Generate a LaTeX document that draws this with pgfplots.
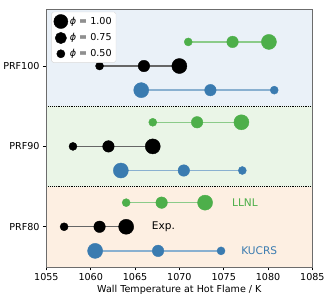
\documentclass[border=0pt]{standalone}
\usepackage{fontspec}
\setmainfont{DejaVu Sans}
\usepackage{pgfplots}
\pgfplotsset{compat=1.18}
\usepackage{pgfplotstable}

\definecolor{cexp}{HTML}{000000}
\definecolor{cllnl}{HTML}{4DAF4A}
\definecolor{ckucrs}{HTML}{3A7BB0}
\definecolor{bgtop}{HTML}{EAF1F8}
\definecolor{bgmid}{HTML}{EAF5E7}
\definecolor{bgbot}{HTML}{FDEFE2}

% Wall temperature (K) per fuel (y = 0 PRF80, 1 PRF90, 2 PRF100) and equivalence ratio
\pgfplotstableread{
T      y    phi
1057.0 0.0  0.50
1061.0 0.0  0.75
1064.0 0.0  1.00
nan    nan  nan
1058.0 1.0  0.50
1062.0 1.0  0.75
1067.0 1.0  1.00
nan    nan  nan
1061.0 2.0  0.50
1066.0 2.0  0.75
1070.0 2.0  1.00
}\expdata

\pgfplotstableread{
T      y    phi
1064.0 0.3  0.50
1068.0 0.3  0.75
1072.9 0.3  1.00
nan    nan  nan
1067.0 1.3  0.50
1072.0 1.3  0.75
1077.0 1.3  1.00
nan    nan  nan
1071.0 2.3  0.50
1076.0 2.3  0.75
1080.1 2.3  1.00
}\llnldata

\pgfplotstableread{
T      y    phi
1074.7 -0.3 0.50
1067.6 -0.3 0.75
1060.5 -0.3 1.00
nan    nan  nan
1077.1 0.7  0.50
1070.5 0.7  0.75
1063.4 0.7  1.00
nan    nan  nan
1080.7 1.7  0.50
1073.5 1.7  0.75
1065.7 1.7  1.00
}\kucrsdata

\pgfplotsset{
  connector/.style={line width=1.4pt, unbounded coords=jump},
  phimarks/.style={
    scatter, only marks, mark=*,
    scatter/use mapped color={draw=#1, fill=#1},
    visualization depends on={4.1+7.2*(\thisrow{phi}-0.5) \as \msize},
    scatter/@pre marker code/.append style={/tikz/mark size=\msize pt},
  },
}

\begin{document}
\begin{tikzpicture}
\begin{axis}[
  name=ax,
  at={(0,0)}, anchor=south west,
  width=272pt, height=263pt, scale only axis,
  xmin=1055, xmax=1085, ymin=-0.5, ymax=2.7,
  xtick={1055,1060,...,1085},
  ytick={0,1,2}, yticklabels={PRF80,PRF90,PRF100},
  /pgf/number format/assume math mode=true,
  /pgf/number format/1000 sep={},
  xlabel={Wall Temperature at Hot Flame / K},
  xlabel style={font=\fontsize{9.8}{11}\selectfont, yshift=3pt},
  ticklabel style={font=\fontsize{9.8}{11}\selectfont},
  tick align=outside, major tick length=3.5pt,
  xtick pos=bottom, ytick pos=left,
  tick style={black, line width=0.6pt},
  axis line style={gray!85!black, line width=0.8pt},
  axis on top,
  clip=false,
  legend cell align=left,
  legend style={
    at={(rel axis cs:0.018,0.992)}, anchor=north west,
    draw=gray!30, fill=white, rounded corners=2pt,
    font=\fontsize{9.8}{11}\selectfont,
    row sep=3.2pt, inner sep=2.5pt,
    /tikz/every even column/.append style={column sep=3pt},
  },
]
% background bands per fuel
\addplot[draw=none, fill=bgbot, forget plot] coordinates {(1055,-0.5) (1085,-0.5) (1085,0.5) (1055,0.5)} -- cycle;
\addplot[draw=none, fill=bgmid, forget plot] coordinates {(1055,0.5) (1085,0.5) (1085,1.5) (1055,1.5)} -- cycle;
\addplot[draw=none, fill=bgtop, forget plot] coordinates {(1055,1.5) (1085,1.5) (1085,2.7) (1055,2.7)} -- cycle;
\addplot[black, densely dotted, line width=0.9pt, forget plot] coordinates {(1055,0.5) (1085,0.5)};
\addplot[black, densely dotted, line width=0.9pt, forget plot] coordinates {(1055,1.5) (1085,1.5)};

% connectors
\addplot[connector, cllnl!65!white, forget plot] table[x=T, y=y] {\llnldata};
\addplot[connector, black!60!white, forget plot] table[x=T, y=y] {\expdata};
\addplot[connector, ckucrs!60!white, forget plot] table[x=T, y=y] {\kucrsdata};

% points, sized by equivalence ratio
\addplot[phimarks=cllnl, forget plot] table[x=T, y=y] {\llnldata};
\addplot[phimarks=cexp, forget plot] table[x=T, y=y] {\expdata};
\addplot[phimarks=ckucrs, forget plot] table[x=T, y=y] {\kucrsdata};

\node[text=cllnl, font=\fontsize{10.8}{12}\selectfont] at (axis cs:1077.4,0.3) {LLNL};
\node[text=black, font=\fontsize{10.8}{12}\selectfont] at (axis cs:1068.2,0) {Exp.};
\node[text=ckucrs, font=\fontsize{10.8}{12}\selectfont] at (axis cs:1079.0,-0.3) {KUCRS};

\addlegendimage{only marks, mark=*, black, mark size=7.2pt}
\addlegendentry{{\itshape ϕ} = 1.00}
\addlegendimage{only marks, mark=*, black, mark size=5.8pt}
\addlegendentry{{\itshape ϕ} = 0.75}
\addlegendimage{only marks, mark=*, black, mark size=4.2pt}
\addlegendentry{{\itshape ϕ} = 0.50}
\end{axis}
\path ([shift={(-40pt,-33pt)}]ax.south west) rectangle ([shift={(16pt,10pt)}]ax.north east);
\end{tikzpicture}
\end{document}
